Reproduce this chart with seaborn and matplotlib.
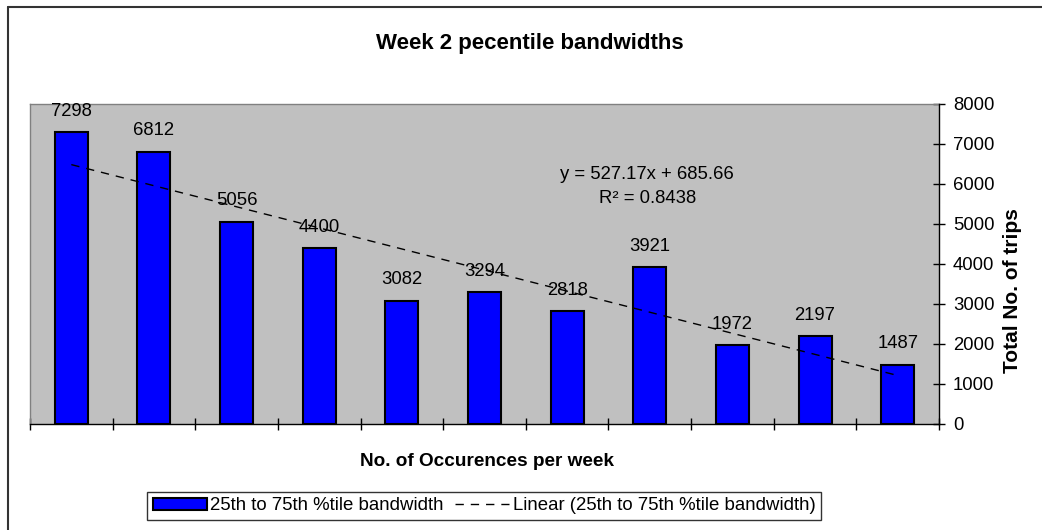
import numpy as np
import pandas as pd
import matplotlib
matplotlib.use("Agg")
import matplotlib.pyplot as plt
from matplotlib.lines import Line2D
from matplotlib.patches import Patch
import seaborn as sns

# --- data -------------------------------------------------------------
categories = ["1", "2", "3", "4", "5", "6", "7", "8", "9", "10", "11"]
trips = [7298, 6812, 5056, 4400, 3082, 3294, 2818, 3921, 1972, 2197, 1487]
y_ticks = [0, 1000, 2000, 3000, 4000, 5000, 6000, 7000, 8000]
equation_text = "y = 527.17x + 685.66"
r2_text = "R\u00b2 = 0.8438"
series_label = "25th to 75th %tile bandwidth"
trend_label = "Linear (25th to 75th %tile bandwidth)"
title = "Week 2 pecentile bandwidths"
x_label = "No. of Occurences per week"
y_label = "Total No. of trips"

df = pd.DataFrame({"occ": categories, "trips": trips})

sns.set_theme(style="white")
plt.rcParams["font.family"] = ["Liberation Sans", "DejaVu Sans"]
for key in ["text.color", "axes.labelcolor", "xtick.color", "ytick.color"]:
    plt.rcParams[key] = "black"
FS = 13.3

W, H = 1042, 530
fig = plt.figure(figsize=(W / 100, H / 100), dpi=100)
fig.patch.set_facecolor("white")

# plot area in pixel coordinates
left, right, top, bottom = 30, 939, 104, 424
ax = fig.add_axes([left / W, 1 - bottom / H, (right - left) / W, (bottom - top) / H])
ax.set_facecolor("#C0C0C0")

sns.barplot(data=df, x="occ", y="trips", color="#0000FF", saturation=1,
            width=0.4, edgecolor="black", linewidth=1.5, ax=ax, zorder=2)

# value labels above the bars
ax.bar_label(ax.containers[0], labels=[str(v) for v in trips], padding=9,
             fontsize=FS, color="black")

# linear trend line
xs = np.arange(len(trips))
slope, intercept = np.polyfit(xs, trips, 1)
ax.plot(xs, slope * xs + intercept, color="black", lw=1.0,
        dashes=(6, 5), zorder=3)

ax.text(0.679, 0.742, equation_text + "\n" + r2_text, transform=ax.transAxes,
        ha="center", va="center", fontsize=FS, linespacing=1.6)

ax.set_xlim(-0.5, len(trips) - 0.5)
ax.set_ylim(0, 8000)
ax.set_xlabel("")
ax.set_ylabel("")

# x axis: tick marks at category boundaries, no labels
ax.set_xticks(np.arange(-0.5, len(trips), 1.0))
ax.set_xticklabels([])
ax.tick_params(axis="x", direction="inout", length=8, width=1, color="black",
               bottom=True)

# y axis on the right
ax.yaxis.tick_right()
ax.set_yticks(y_ticks)
ax.set_yticklabels([str(t) for t in y_ticks], fontsize=FS)
ax.tick_params(axis="y", direction="inout", length=8, width=1, color="black",
               right=True, left=False, pad=6)

for side in ["left", "top"]:
    ax.spines[side].set_color("#808080")
    ax.spines[side].set_linewidth(1.0)
for side in ["right", "bottom"]:
    ax.spines[side].set_color("black")
    ax.spines[side].set_linewidth(1.0)
    ax.spines[side].set_zorder(4)

# titles
fig.text(530 / W, 1 - 43 / H, title, ha="center", va="center",
         fontsize=16, fontweight="bold")
fig.text(487 / W, 1 - 462 / H, x_label, ha="center", va="center",
         fontsize=13.7, fontweight="bold")
fig.text(1012 / W, 1 - 291 / H, y_label, ha="center", va="center",
         rotation=90, fontsize=15, fontweight="bold")

# legend
handles = [Patch(facecolor="#0000FF", edgecolor="black", linewidth=1.5),
           Line2D([0], [0], color="black", lw=1.0, dashes=(6, 5))]
leg = fig.legend(handles, [series_label, trend_label], loc="center",
                 bbox_to_anchor=(484 / W, 1 - 506 / H), ncol=2, fontsize=13.4,
                 frameon=True, fancybox=False, handlelength=2.9,
                 handleheight=0.6, handletextpad=0.2, columnspacing=0.6,
                 borderpad=0.3, borderaxespad=0)
leg.get_frame().set_edgecolor("black")
leg.get_frame().set_linewidth(1.0)

# chart border
fig.add_artist(Line2D([7.5 / W, 7.5 / W], [0, 1 - 6.5 / H], color="#333333",
                      lw=1.5, transform=fig.transFigure))
fig.add_artist(Line2D([7.5 / W, 1], [1 - 6.5 / H, 1 - 6.5 / H],
                      color="#333333", lw=1.5, transform=fig.transFigure))

fig.savefig("out.png", dpi=100)
